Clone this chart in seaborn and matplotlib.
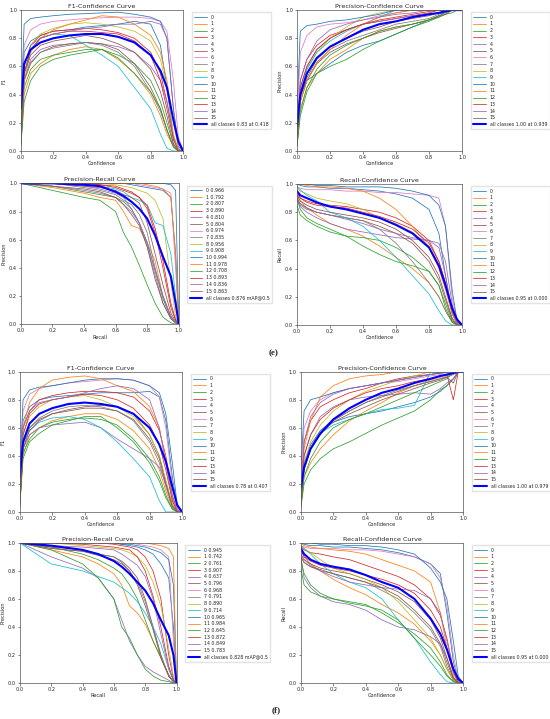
import seaborn as sns
import matplotlib.pyplot as plt
import numpy as np

# confidence grid shared by F1 / P / R curves, recall grid for PR curves
CONF = [0.0, 0.02, 0.06, 0.12, 0.2, 0.3, 0.4, 0.5, 0.6, 0.7, 0.8, 0.86, 0.9, 0.94, 0.97, 1.0]
RECALL = [0.0, 0.2, 0.4, 0.5, 0.6, 0.65, 0.7, 0.75, 0.8, 0.85, 0.9, 0.95, 0.98, 1.0]
CLASSES = [str(i) for i in range(16)]

E_AP = [0.966, 0.792, 0.807, 0.890, 0.810, 0.804, 0.974, 0.835, 0.956, 0.908, 0.994, 0.978, 0.708, 0.893, 0.836, 0.863]
F_AP = [0.945, 0.742, 0.761, 0.907, 0.637, 0.796, 0.968, 0.791, 0.890, 0.714, 0.965, 0.984, 0.645, 0.872, 0.849, 0.783]

# ---------------- (e) ----------------
E_F1 = [
    [0.2, 0.7, 0.78, 0.82, 0.85, 0.86, 0.88, 0.89, 0.9, 0.92, 0.9, 0.75, 0.45, 0.1, 0.01, 0.0],
    [0.05, 0.4, 0.55, 0.62, 0.68, 0.72, 0.74, 0.72, 0.65, 0.55, 0.4, 0.25, 0.12, 0.03, 0.0, 0.0],
    [0.05, 0.45, 0.58, 0.65, 0.68, 0.7, 0.72, 0.72, 0.68, 0.62, 0.5, 0.35, 0.2, 0.05, 0.0, 0.0],
    [0.1, 0.6, 0.75, 0.82, 0.85, 0.86, 0.87, 0.86, 0.84, 0.8, 0.7, 0.55, 0.35, 0.1, 0.01, 0.0],
    [0.05, 0.5, 0.65, 0.72, 0.75, 0.76, 0.77, 0.76, 0.74, 0.7, 0.6, 0.5, 0.35, 0.1, 0.01, 0.0],
    [0.05, 0.5, 0.62, 0.7, 0.74, 0.76, 0.77, 0.76, 0.72, 0.62, 0.45, 0.3, 0.15, 0.03, 0.0, 0.0],
    [0.2, 0.75, 0.86, 0.9, 0.92, 0.93, 0.94, 0.945, 0.95, 0.95, 0.94, 0.92, 0.85, 0.5, 0.1, 0.0],
    [0.05, 0.5, 0.63, 0.7, 0.73, 0.75, 0.77, 0.75, 0.7, 0.6, 0.42, 0.28, 0.15, 0.03, 0.0, 0.0],
    [0.1, 0.6, 0.75, 0.83, 0.87, 0.9, 0.91, 0.9, 0.88, 0.85, 0.78, 0.65, 0.45, 0.12, 0.01, 0.0],
    [0.1, 0.55, 0.72, 0.8, 0.83, 0.82, 0.75, 0.68, 0.6, 0.45, 0.3, 0.12, 0.02, 0.0, 0.0, 0.0],
    [0.3, 0.9, 0.94, 0.95, 0.96, 0.97, 0.975, 0.98, 0.985, 0.97, 0.95, 0.92, 0.8, 0.3, 0.05, 0.0],
    [0.1, 0.5, 0.7, 0.8, 0.86, 0.9, 0.93, 0.96, 0.95, 0.9, 0.82, 0.7, 0.5, 0.2, 0.03, 0.0],
    [0.03, 0.35, 0.5, 0.6, 0.65, 0.68, 0.7, 0.72, 0.66, 0.55, 0.42, 0.3, 0.15, 0.03, 0.0, 0.0],
    [0.1, 0.55, 0.72, 0.8, 0.83, 0.85, 0.85, 0.84, 0.83, 0.78, 0.68, 0.5, 0.3, 0.08, 0.0, 0.0],
    [0.1, 0.6, 0.75, 0.8, 0.83, 0.85, 0.87, 0.88, 0.9, 0.9, 0.92, 0.9, 0.8, 0.3, 0.03, 0.0],
    [0.08, 0.55, 0.68, 0.75, 0.78, 0.8, 0.82, 0.8, 0.76, 0.7, 0.58, 0.42, 0.25, 0.05, 0.0, 0.0],
]
E_F1_ALL = [0.3, 0.62, 0.72, 0.77, 0.8, 0.82, 0.83, 0.83, 0.81, 0.77, 0.68, 0.57, 0.45, 0.22, 0.07, 0.0]

E_PC = [
    [0.1, 0.4, 0.5, 0.55, 0.62, 0.7, 0.75, 0.78, 0.83, 0.88, 0.93, 0.96, 0.98, 1, 1, 1],
    [0.05, 0.3, 0.45, 0.55, 0.65, 0.72, 0.8, 0.85, 0.88, 0.9, 0.93, 0.95, 0.97, 1, 1, 1],
    [0.03, 0.25, 0.42, 0.55, 0.6, 0.65, 0.72, 0.78, 0.83, 0.88, 0.92, 0.95, 0.97, 0.98, 1, 1],
    [0.1, 0.5, 0.65, 0.75, 0.82, 0.86, 0.9, 0.92, 0.94, 0.96, 0.98, 1, 1, 1, 1, 1],
    [0.08, 0.45, 0.6, 0.72, 0.8, 0.86, 0.9, 0.92, 0.94, 0.96, 0.97, 0.98, 1, 1, 1, 1],
    [0.05, 0.35, 0.5, 0.62, 0.7, 0.76, 0.8, 0.84, 0.87, 0.9, 0.93, 0.96, 0.97, 1, 1, 1],
    [0.2, 0.7, 0.82, 0.88, 0.9, 0.91, 0.93, 0.96, 0.98, 1, 1, 1, 1, 1, 1, 1],
    [0.05, 0.35, 0.5, 0.63, 0.72, 0.78, 0.82, 0.86, 0.9, 0.92, 0.94, 0.97, 0.99, 1, 1, 1],
    [0.08, 0.4, 0.58, 0.7, 0.8, 0.88, 0.95, 0.98, 1, 1, 1, 1, 1, 1, 1, 1],
    [0.08, 0.42, 0.58, 0.7, 0.78, 0.85, 0.9, 0.95, 1, 1, 1, 1, 1, 1, 1, 1],
    [0.3, 0.85, 0.89, 0.9, 0.92, 0.93, 0.95, 0.97, 1, 1, 1, 1, 1, 1, 1, 1],
    [0.08, 0.35, 0.5, 0.62, 0.72, 0.82, 0.9, 0.95, 0.98, 1, 1, 1, 1, 1, 1, 1],
    [0.03, 0.28, 0.45, 0.58, 0.68, 0.75, 0.8, 0.85, 0.88, 0.9, 0.93, 0.95, 1, 1, 1, 1],
    [0.1, 0.45, 0.6, 0.72, 0.8, 0.86, 0.9, 0.93, 0.95, 0.97, 0.99, 1, 1, 1, 1, 1],
    [0.1, 0.5, 0.65, 0.78, 0.86, 0.9, 0.93, 0.95, 0.97, 0.98, 1, 1, 1, 1, 1, 1],
    [0.06, 0.38, 0.52, 0.65, 0.74, 0.8, 0.85, 0.88, 0.92, 0.94, 0.96, 0.98, 1, 1, 1, 1],
]
E_PC_ALL = [0.18, 0.4, 0.55, 0.66, 0.74, 0.8, 0.86, 0.9, 0.92, 0.95, 0.97, 0.98, 0.99, 1, 1, 1]

E_PR = [
    [1, 1, 1, 1, 1, 1, 0.99, 0.98, 0.97, 0.96, 0.95, 0.9, 0.5, 0],
    [1, 0.97, 0.93, 0.9, 0.88, 0.8, 0.7, 0.68, 0.58, 0.45, 0.2, 0.05, 0.01, 0],
    [1, 0.98, 0.94, 0.92, 0.9, 0.87, 0.82, 0.72, 0.58, 0.38, 0.18, 0.05, 0.01, 0],
    [1, 1, 1, 0.99, 0.97, 0.95, 0.93, 0.9, 0.82, 0.65, 0.4, 0.12, 0.03, 0],
    [1, 0.98, 0.95, 0.93, 0.9, 0.85, 0.8, 0.72, 0.55, 0.35, 0.15, 0.04, 0.01, 0],
    [1, 0.98, 0.96, 0.94, 0.9, 0.85, 0.78, 0.7, 0.55, 0.32, 0.15, 0.04, 0.01, 0],
    [1, 1, 1, 1, 1, 1, 1, 0.99, 0.98, 0.97, 0.96, 0.93, 0.4, 0],
    [1, 1, 0.97, 0.95, 0.92, 0.88, 0.85, 0.78, 0.65, 0.4, 0.2, 0.05, 0.01, 0],
    [1, 1, 1, 1, 0.99, 0.98, 0.97, 0.95, 0.93, 0.88, 0.75, 0.3, 0.05, 0],
    [1, 1, 1, 0.98, 0.96, 0.94, 0.9, 0.88, 0.85, 0.72, 0.7, 0.5, 0.2, 0],
    [1, 1, 1, 1, 1, 1, 1, 1, 1, 1, 1, 0.99, 0.95, 0],
    [1, 1, 1, 1, 1, 1, 1, 1, 0.99, 0.98, 0.96, 0.9, 0.5, 0],
    [1, 0.95, 0.9, 0.88, 0.8, 0.65, 0.55, 0.42, 0.28, 0.15, 0.05, 0.01, 0, 0],
    [1, 1, 1, 0.99, 0.98, 0.96, 0.94, 0.9, 0.84, 0.68, 0.45, 0.15, 0.03, 0],
    [1, 1, 0.98, 0.96, 0.93, 0.9, 0.82, 0.72, 0.58, 0.38, 0.2, 0.06, 0.01, 0],
    [1, 1, 0.98, 0.97, 0.95, 0.92, 0.9, 0.86, 0.72, 0.5, 0.28, 0.08, 0.02, 0],
]
E_PR_ALL = [1, 1, 0.99, 0.98, 0.94, 0.91, 0.87, 0.82, 0.75, 0.63, 0.48, 0.34, 0.15, 0.0]

E_RC = [
    [1, 0.99, 0.98, 0.98, 0.97, 0.97, 0.96, 0.95, 0.93, 0.9, 0.82, 0.65, 0.35, 0.08, 0.01, 0],
    [0.92, 0.88, 0.83, 0.78, 0.72, 0.68, 0.63, 0.56, 0.48, 0.4, 0.3, 0.2, 0.1, 0.02, 0, 0],
    [0.85, 0.78, 0.74, 0.7, 0.66, 0.63, 0.62, 0.6, 0.55, 0.48, 0.38, 0.28, 0.15, 0.03, 0, 0],
    [0.95, 0.9, 0.88, 0.86, 0.85, 0.84, 0.82, 0.8, 0.76, 0.7, 0.6, 0.45, 0.3, 0.1, 0.01, 0],
    [0.88, 0.84, 0.8, 0.76, 0.72, 0.68, 0.66, 0.64, 0.62, 0.61, 0.6, 0.58, 0.45, 0.15, 0.02, 0],
    [0.9, 0.86, 0.83, 0.8, 0.78, 0.76, 0.74, 0.7, 0.65, 0.58, 0.45, 0.32, 0.18, 0.04, 0, 0],
    [0.98, 0.97, 0.96, 0.96, 0.96, 0.95, 0.95, 0.94, 0.94, 0.93, 0.92, 0.9, 0.7, 0.2, 0.02, 0],
    [0.9, 0.85, 0.82, 0.8, 0.78, 0.76, 0.74, 0.68, 0.58, 0.45, 0.3, 0.2, 0.1, 0.02, 0, 0],
    [0.97, 0.95, 0.93, 0.9, 0.88, 0.86, 0.82, 0.76, 0.72, 0.66, 0.56, 0.42, 0.28, 0.08, 0.01, 0],
    [0.98, 0.96, 0.92, 0.88, 0.8, 0.76, 0.7, 0.6, 0.48, 0.35, 0.22, 0.1, 0.03, 0, 0, 0],
    [1, 1, 1, 0.99, 0.99, 0.98, 0.98, 0.98, 0.97, 0.95, 0.92, 0.85, 0.7, 0.25, 0.03, 0],
    [1, 1, 0.99, 0.98, 0.98, 0.97, 0.95, 0.9, 0.82, 0.7, 0.55, 0.4, 0.25, 0.08, 0.01, 0],
    [0.9, 0.82, 0.76, 0.72, 0.68, 0.63, 0.56, 0.5, 0.45, 0.42, 0.38, 0.28, 0.12, 0.02, 0, 0],
    [0.93, 0.9, 0.87, 0.85, 0.84, 0.83, 0.8, 0.77, 0.73, 0.68, 0.58, 0.45, 0.3, 0.1, 0.02, 0],
    [0.9, 0.86, 0.83, 0.8, 0.78, 0.75, 0.72, 0.68, 0.65, 0.62, 0.6, 0.55, 0.35, 0.1, 0.01, 0],
    [0.92, 0.88, 0.85, 0.82, 0.8, 0.78, 0.76, 0.73, 0.68, 0.6, 0.48, 0.35, 0.2, 0.05, 0, 0],
]
E_RC_ALL = [0.95, 0.92, 0.9, 0.87, 0.84, 0.82, 0.79, 0.76, 0.71, 0.65, 0.55, 0.42, 0.28, 0.12, 0.04, 0.0]

# ---------------- (f) ----------------
F_F1 = [
    [0.2, 0.65, 0.75, 0.8, 0.82, 0.83, 0.84, 0.85, 0.85, 0.85, 0.86, 0.82, 0.65, 0.25, 0.03, 0.0],
    [0.05, 0.4, 0.55, 0.6, 0.65, 0.68, 0.7, 0.7, 0.66, 0.58, 0.45, 0.3, 0.15, 0.03, 0.0, 0.0],
    [0.05, 0.42, 0.52, 0.6, 0.64, 0.66, 0.67, 0.66, 0.62, 0.52, 0.38, 0.25, 0.12, 0.02, 0.0, 0.0],
    [0.15, 0.6, 0.72, 0.8, 0.83, 0.85, 0.86, 0.86, 0.85, 0.82, 0.72, 0.58, 0.4, 0.12, 0.01, 0.0],
    [0.05, 0.45, 0.55, 0.6, 0.62, 0.63, 0.64, 0.6, 0.52, 0.45, 0.38, 0.32, 0.2, 0.05, 0.0, 0.0],
    [0.05, 0.48, 0.6, 0.66, 0.7, 0.73, 0.75, 0.76, 0.75, 0.7, 0.55, 0.4, 0.22, 0.05, 0.0, 0.0],
    [0.2, 0.72, 0.84, 0.88, 0.9, 0.92, 0.93, 0.94, 0.95, 0.94, 0.9, 0.82, 0.6, 0.2, 0.02, 0.0],
    [0.05, 0.45, 0.6, 0.67, 0.72, 0.75, 0.76, 0.75, 0.72, 0.65, 0.5, 0.35, 0.18, 0.04, 0.0, 0.0],
    [0.1, 0.55, 0.68, 0.75, 0.8, 0.82, 0.83, 0.8, 0.75, 0.68, 0.55, 0.4, 0.22, 0.05, 0.0, 0.0],
    [0.08, 0.5, 0.58, 0.64, 0.67, 0.68, 0.66, 0.6, 0.5, 0.38, 0.25, 0.08, 0.0, 0.0, 0.0, 0.0],
    [0.3, 0.8, 0.87, 0.89, 0.9, 0.92, 0.94, 0.95, 0.95, 0.94, 0.9, 0.85, 0.7, 0.35, 0.05, 0.0],
    [0.15, 0.6, 0.78, 0.88, 0.94, 0.96, 0.97, 0.95, 0.9, 0.86, 0.75, 0.6, 0.35, 0.08, 0.01, 0.0],
    [0.03, 0.38, 0.5, 0.56, 0.62, 0.65, 0.68, 0.68, 0.6, 0.5, 0.35, 0.22, 0.1, 0.02, 0.0, 0.0],
    [0.1, 0.55, 0.7, 0.77, 0.8, 0.82, 0.84, 0.83, 0.8, 0.74, 0.62, 0.48, 0.3, 0.08, 0.0, 0.0],
    [0.1, 0.6, 0.72, 0.78, 0.8, 0.82, 0.85, 0.88, 0.9, 0.88, 0.8, 0.6, 0.35, 0.1, 0.01, 0.0],
    [0.05, 0.45, 0.58, 0.65, 0.7, 0.72, 0.74, 0.74, 0.72, 0.66, 0.52, 0.38, 0.2, 0.04, 0.0, 0.0],
]
F_F1_ALL = [0.25, 0.5, 0.63, 0.7, 0.74, 0.77, 0.78, 0.77, 0.75, 0.7, 0.6, 0.48, 0.36, 0.18, 0.05, 0.0]

F_PC = [
    [0.1, 0.35, 0.48, 0.58, 0.64, 0.68, 0.7, 0.72, 0.75, 0.78, 0.82, 0.86, 0.9, 0.95, 1, 1],
    [0.05, 0.25, 0.35, 0.45, 0.55, 0.65, 0.72, 0.78, 0.85, 0.9, 0.94, 0.96, 0.98, 1, 1, 1],
    [0.03, 0.2, 0.3, 0.38, 0.45, 0.5, 0.56, 0.62, 0.67, 0.72, 0.8, 0.87, 0.9, 0.95, 1, 1],
    [0.15, 0.5, 0.65, 0.75, 0.8, 0.85, 0.88, 0.92, 0.95, 0.97, 0.98, 0.99, 1, 1, 1, 1],
    [0.08, 0.4, 0.55, 0.68, 0.75, 0.8, 0.82, 0.83, 0.84, 0.85, 0.84, 0.88, 0.92, 0.95, 1, 1],
    [0.05, 0.3, 0.45, 0.55, 0.65, 0.72, 0.78, 0.82, 0.86, 0.9, 0.93, 0.95, 0.96, 0.92, 1, 1],
    [0.2, 0.6, 0.72, 0.8, 0.85, 0.88, 0.9, 0.92, 0.93, 0.95, 0.97, 0.98, 1, 1, 1, 1],
    [0.05, 0.32, 0.46, 0.58, 0.66, 0.72, 0.78, 0.83, 0.87, 0.9, 0.93, 0.95, 0.97, 0.99, 1, 1],
    [0.08, 0.35, 0.5, 0.62, 0.72, 0.8, 0.86, 0.9, 0.94, 0.97, 1, 1, 1, 1, 1, 1],
    [0.05, 0.3, 0.45, 0.56, 0.62, 0.66, 0.7, 0.73, 0.74, 0.76, 1, 1, 1, 1, 1, 1],
    [0.3, 0.72, 0.8, 0.82, 0.85, 0.88, 0.9, 0.92, 0.94, 0.96, 0.98, 0.99, 1, 1, 1, 1],
    [0.1, 0.45, 0.65, 0.82, 0.9, 0.95, 0.97, 0.98, 1, 1, 1, 1, 1, 1, 1, 1],
    [0.03, 0.25, 0.38, 0.5, 0.6, 0.66, 0.7, 0.75, 0.8, 0.85, 0.9, 0.93, 0.95, 1, 1, 1],
    [0.1, 0.4, 0.55, 0.66, 0.74, 0.8, 0.85, 0.88, 0.9, 0.93, 0.95, 0.97, 0.98, 0.8, 1, 1],
    [0.1, 0.5, 0.68, 0.78, 0.84, 0.88, 0.9, 0.92, 0.94, 0.96, 0.98, 1, 1, 1, 1, 1],
    [0.05, 0.3, 0.45, 0.56, 0.64, 0.7, 0.75, 0.8, 0.84, 0.88, 0.92, 0.94, 0.96, 0.98, 1, 1],
]
F_PC_ALL = [0.17, 0.32, 0.45, 0.56, 0.66, 0.74, 0.8, 0.85, 0.88, 0.92, 0.95, 0.97, 0.98, 0.99, 1, 1]

F_PR = [
    [1, 1, 1, 1, 1, 0.99, 0.98, 0.97, 0.95, 0.92, 0.85, 0.75, 0.4, 0],
    [1, 0.95, 0.9, 0.85, 0.78, 0.7, 0.55, 0.5, 0.42, 0.3, 0.18, 0.05, 0.01, 0],
    [1, 0.97, 0.92, 0.88, 0.82, 0.78, 0.7, 0.6, 0.45, 0.3, 0.18, 0.06, 0.01, 0],
    [1, 1, 1, 1, 0.99, 0.98, 0.97, 0.95, 0.9, 0.8, 0.6, 0.2, 0.03, 0],
    [1, 0.9, 0.82, 0.75, 0.6, 0.45, 0.3, 0.2, 0.12, 0.08, 0.05, 0.02, 0, 0],
    [1, 0.97, 0.95, 0.92, 0.9, 0.87, 0.82, 0.75, 0.6, 0.4, 0.2, 0.05, 0.01, 0],
    [1, 1, 1, 1, 1, 1, 1, 0.99, 0.98, 0.97, 0.95, 0.9, 0.3, 0],
    [1, 0.96, 0.94, 0.92, 0.9, 0.86, 0.8, 0.72, 0.58, 0.4, 0.2, 0.05, 0.01, 0],
    [1, 1, 0.98, 0.97, 0.96, 0.95, 0.93, 0.9, 0.84, 0.72, 0.55, 0.25, 0.05, 0],
    [1, 0.85, 0.8, 0.76, 0.72, 0.68, 0.64, 0.58, 0.5, 0.4, 0.28, 0.1, 0.02, 0],
    [1, 1, 1, 1, 1, 0.99, 0.99, 0.98, 0.97, 0.95, 0.93, 0.88, 0.7, 0],
    [1, 1, 1, 1, 1, 1, 1, 1, 1, 0.99, 0.98, 0.96, 0.9, 0],
    [1, 0.95, 0.85, 0.75, 0.6, 0.4, 0.32, 0.2, 0.1, 0.05, 0.02, 0.01, 0, 0],
    [1, 1, 0.99, 0.98, 0.97, 0.96, 0.95, 0.9, 0.8, 0.62, 0.4, 0.12, 0.02, 0],
    [1, 0.98, 0.97, 0.96, 0.95, 0.92, 0.88, 0.84, 0.76, 0.6, 0.35, 0.1, 0.02, 0],
    [1, 0.96, 0.94, 0.91, 0.88, 0.85, 0.8, 0.7, 0.55, 0.38, 0.18, 0.05, 0.01, 0],
]
F_PR_ALL = [1, 0.98, 0.95, 0.92, 0.87, 0.83, 0.78, 0.72, 0.66, 0.57, 0.45, 0.34, 0.2, 0.0]

F_RC = [
    [1, 0.99, 0.98, 0.98, 0.97, 0.97, 0.96, 0.95, 0.93, 0.9, 0.85, 0.78, 0.5, 0.15, 0.02, 0],
    [0.95, 0.9, 0.85, 0.8, 0.74, 0.68, 0.63, 0.56, 0.5, 0.42, 0.3, 0.2, 0.1, 0.02, 0, 0],
    [0.82, 0.7, 0.65, 0.62, 0.6, 0.58, 0.56, 0.5, 0.43, 0.35, 0.25, 0.15, 0.06, 0.01, 0, 0],
    [0.97, 0.95, 0.93, 0.92, 0.9, 0.88, 0.84, 0.8, 0.76, 0.7, 0.6, 0.48, 0.32, 0.1, 0.01, 0],
    [0.9, 0.75, 0.68, 0.62, 0.58, 0.56, 0.52, 0.45, 0.4, 0.38, 0.33, 0.28, 0.18, 0.04, 0, 0],
    [0.92, 0.88, 0.85, 0.82, 0.8, 0.78, 0.74, 0.7, 0.65, 0.58, 0.45, 0.32, 0.18, 0.04, 0, 0],
    [0.98, 0.97, 0.96, 0.96, 0.96, 0.95, 0.95, 0.94, 0.92, 0.9, 0.85, 0.75, 0.55, 0.2, 0.02, 0],
    [0.9, 0.86, 0.83, 0.8, 0.78, 0.75, 0.72, 0.66, 0.6, 0.5, 0.38, 0.26, 0.12, 0.02, 0, 0],
    [0.98, 0.96, 0.93, 0.88, 0.82, 0.78, 0.74, 0.68, 0.58, 0.45, 0.32, 0.2, 0.1, 0.02, 0, 0],
    [0.98, 0.96, 0.92, 0.85, 0.78, 0.72, 0.68, 0.6, 0.45, 0.32, 0.15, 0.06, 0.01, 0, 0, 0],
    [1, 1, 1, 0.99, 0.99, 0.98, 0.98, 0.97, 0.95, 0.92, 0.82, 0.72, 0.6, 0.3, 0.05, 0],
    [1, 0.98, 0.97, 0.96, 0.95, 0.94, 0.92, 0.88, 0.84, 0.8, 0.72, 0.5, 0.25, 0.06, 0.01, 0],
    [0.88, 0.78, 0.7, 0.64, 0.6, 0.57, 0.55, 0.52, 0.45, 0.32, 0.2, 0.12, 0.05, 0.01, 0, 0],
    [0.95, 0.9, 0.87, 0.84, 0.82, 0.8, 0.77, 0.74, 0.7, 0.64, 0.52, 0.4, 0.25, 0.08, 0, 0],
    [0.92, 0.88, 0.84, 0.8, 0.76, 0.72, 0.7, 0.68, 0.67, 0.66, 0.6, 0.5, 0.3, 0.08, 0.01, 0],
    [0.9, 0.86, 0.83, 0.81, 0.78, 0.75, 0.72, 0.68, 0.62, 0.52, 0.4, 0.28, 0.15, 0.03, 0, 0],
]
F_RC_ALL = [0.96, 0.92, 0.88, 0.85, 0.83, 0.81, 0.77, 0.72, 0.68, 0.6, 0.46, 0.35, 0.24, 0.1, 0.03, 0.0]

sns.set_style('ticks')
plt.rcParams['font.family'] = ['DejaVu Sans']
colors = sns.color_palette('tab10', 10)
colors = colors + colors[:6]

fig = plt.figure(figsize=(5.5, 7.19), dpi=100)


def panel(rect, x, curves, all_curve, labels, all_label, title, xlabel, ylabel):
    ax = fig.add_axes(rect)
    for i, y in enumerate(curves):
        sns.lineplot(x=x, y=y, color=colors[i], linewidth=0.55, label=labels[i],
                     estimator=None, ax=ax)
    sns.lineplot(x=x, y=all_curve, color='blue', linewidth=1.5, label=all_label,
                 estimator=None, ax=ax)
    ax.set_xlim(0, 1)
    ax.set_ylim(0, 1)
    ax.set_xticks(np.arange(0, 1.01, 0.2))
    ax.set_yticks(np.arange(0, 1.01, 0.2))
    ax.tick_params(labelsize=3.6, length=1.8, width=0.4, pad=1)
    for s in ax.spines.values():
        s.set_linewidth(0.5)
        s.set_color('#555555')
    ax.set_title(title, fontsize=4.6, pad=1.5)
    ax.set_xlabel(xlabel, fontsize=3.6, labelpad=1)
    ax.set_ylabel(ylabel, fontsize=3.6, labelpad=1.5)
    ax.legend(bbox_to_anchor=(1.04, 1.0), loc='upper left', fontsize=3.4,
              frameon=True, edgecolor='#dddddd', fancybox=False,
              handlelength=2.6, labelspacing=0.36, borderpad=0.5, handletextpad=0.9)
    return ax


pr_e = [f'{c} {a:.3f}' for c, a in zip(CLASSES, E_AP)]
pr_f = [f'{c} {a:.3f}' for c, a in zip(CLASSES, F_AP)]

panel([0.038, 0.790, 0.295, 0.196], CONF, E_F1, E_F1_ALL, CLASSES,
      'all classes 0.83 at 0.418', 'F1-Confidence Curve', 'Confidence', 'F1')
panel([0.540, 0.790, 0.300, 0.196], CONF, E_PC, E_PC_ALL, CLASSES,
      'all classes 1.00 at 0.939', 'Precision-Confidence Curve', 'Confidence', 'Precision')
panel([0.038, 0.549, 0.287, 0.196], RECALL, E_PR, E_PR_ALL, pr_e,
      'all classes 0.876 mAP@0.5', 'Precision-Recall Curve', 'Recall', 'Precision')
panel([0.540, 0.548, 0.300, 0.196], CONF, E_RC, E_RC_ALL, CLASSES,
      'all classes 0.95 at 0.000', 'Recall-Confidence Curve', 'Confidence', 'Recall')

panel([0.036, 0.288, 0.295, 0.195], CONF, F_F1, F_F1_ALL, CLASSES,
      'all classes 0.78 at 0.407', 'F1-Confidence Curve', 'Confidence', 'F1')
panel([0.547, 0.288, 0.295, 0.195], CONF, F_PC, F_PC_ALL, CLASSES,
      'all classes 1.00 at 0.979', 'Precision-Confidence Curve', 'Confidence', 'Precision')
panel([0.036, 0.050, 0.285, 0.195], RECALL, F_PR, F_PR_ALL, pr_f,
      'all classes 0.828 mAP@0.5', 'Precision-Recall Curve', 'Recall', 'Precision')
panel([0.547, 0.050, 0.295, 0.195], CONF, F_RC, F_RC_ALL, CLASSES,
      'all classes 0.95 at 0.000', 'Recall-Confidence Curve', 'Confidence', 'Recall')

fig.text(0.497, 0.509, '(e)', fontsize=6.5, fontweight='bold',
         family=['Liberation Serif', 'DejaVu Serif'], ha='center', va='center')
fig.text(0.502, 0.0125, '(f)', fontsize=6.5, fontweight='bold',
         family=['Liberation Serif', 'DejaVu Serif'], ha='center', va='center')

fig.savefig('out.png', dpi=100)
